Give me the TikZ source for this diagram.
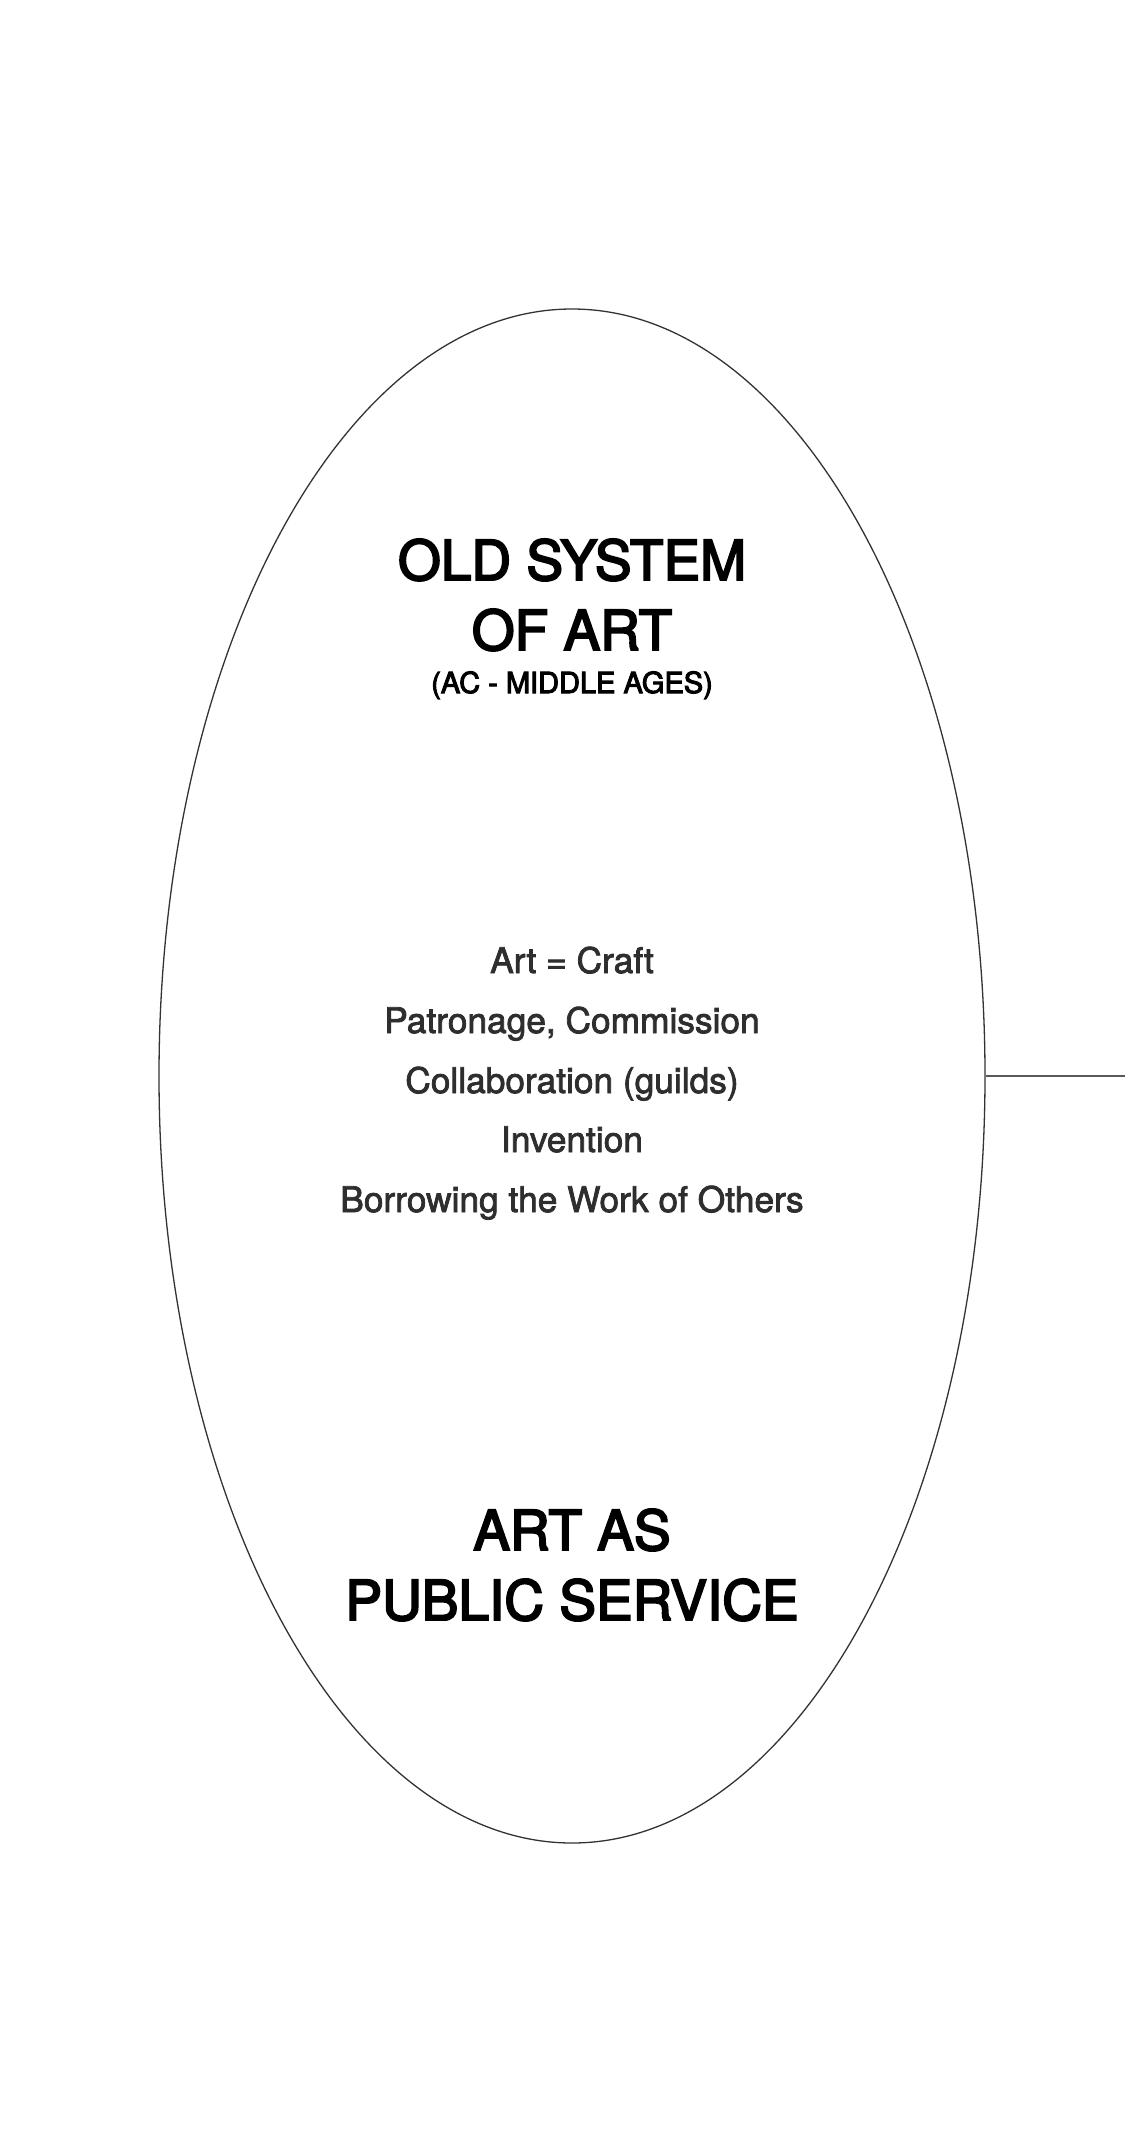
\documentclass[tikz,border=0pt]{standalone}
\usepackage{fontspec}
\setmainfont{TeX Gyre Heros}
\newfontfamily\medfont[FakeBold=3.5]{TeX Gyre Heros}
\newfontfamily\itemfont[FakeBold=2.2]{TeX Gyre Heros}
\usetikzlibrary{shapes.geometric}

\tikzset{
    headline/.style={anchor=base, font=\medfont\fontsize{55}{66}\selectfont, text=black},
    subline/.style={anchor=base, font=\medfont\fontsize{29}{32}\selectfont, text=black},
    itemline/.style={anchor=base, font=\itemfont\fontsize{35.3}{40}\selectfont, text=black!82},
}

\begin{document}
\begin{tikzpicture}[x=1pt, y=-1pt]
        \useasboundingbox[fill=white] (0,0) rectangle (1125,2154);

        \node[draw=black!80, line width=1.3pt, ellipse, inner sep=0pt,
              minimum width=826pt, minimum height=1534pt] (oldsystem) at (572,1076) {};

        \coordinate (rightedge) at (1125,1076);
        \draw[black!65, line width=1.4pt] (oldsystem.east) -- (rightedge);

        \node[headline] (title1) at (572,580) {OLD SYSTEM};
        \node[headline] (title2) at (572,650) {OF ART};
        \node[subline] (period) at (572,693) {(AC - MIDDLE AGES)};

        \node[itemline] (craft) at (572,973) {Art = Craft};
        \node[itemline] (patron) at (572,1033) {Patronage, Commission};
        \node[itemline] (guilds) at (572,1093) {Collaboration (guilds)};
        \node[itemline] (invent) at (572,1152) {Invention};
        \node[itemline] (borrow) at (572,1212) {Borrowing the Work of Others};

        \node[headline] (service1) at (572,1550) {ART AS};
        \node[headline] (service2) at (572,1620) {PUBLIC SERVICE};

    \end{tikzpicture}
\end{document}
